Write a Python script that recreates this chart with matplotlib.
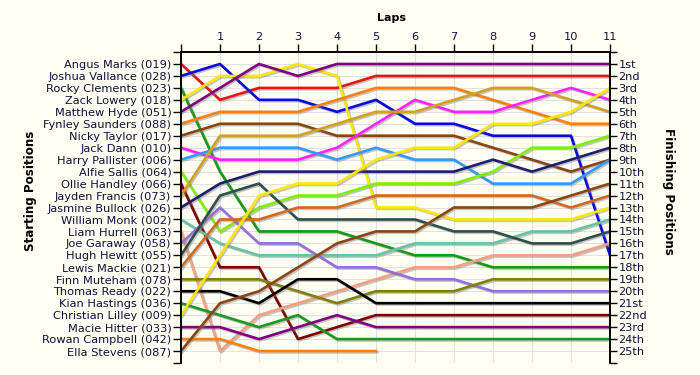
import matplotlib
matplotlib.use("Agg")
import matplotlib.pyplot as plt
import matplotlib.patheffects as pe

# starting grid (top to bottom)
names = ["Angus Marks (019)", "Joshua Vallance (028)", "Rocky Clements (023)",
         "Zack Lowery (018)", "Matthew Hyde (051)", "Fynley Saunders (088)",
         "Nicky Taylor (017)", "Jack Dann (010)", "Harry Pallister (006)",
         "Alfie Sallis (064)", "Ollie Handley (066)", "Jayden Francis (073)",
         "Jasmine Bullock (026)", "William Monk (002)", "Liam Hurrell (063)",
         "Joe Garaway (058)", "Hugh Hewitt (055)", "Lewis Mackie (021)",
         "Finn Muteham (078)", "Thomas Ready (022)", "Kian Hastings (036)",
         "Christian Lilley (009)", "Macie Hitter (033)", "Rowan Campbell (042)",
         "Ella Stevens (087)"]

# position at the end of each lap, lap 0 = grid
positions = [
    [1, 4, 3, 3, 3, 2, 2, 2, 2, 2, 2, 2],
    [2, 1, 4, 4, 5, 4, 6, 6, 7, 7, 7, 17],
    [3, 10, 15, 15, 15, 16, 17, 17, 18, 18, 18, 18],
    [4, 2, 2, 1, 2, 13, 13, 14, 14, 14, 14, 13],
    [5, 3, 1, 2, 1, 1, 1, 1, 1, 1, 1, 1],
    [6, 5, 5, 5, 4, 3, 3, 3, 4, 5, 6, 6],
    [7, 6, 6, 6, 7, 7, 7, 7, 8, 9, 10, 9],
    [8, 9, 9, 9, 8, 6, 4, 5, 5, 4, 3, 4],
    [9, 8, 8, 8, 9, 8, 9, 9, 11, 11, 11, 9],
    [10, 15, 13, 12, 12, 11, 11, 11, 10, 8, 8, 7],
    [11, 18, 18, 24, 23, 22, 22, 22, 22, 22, 22, 22],
    [12, 7, 7, 7, 6, 5, 5, 4, 3, 3, 4, 5],
    [13, 11, 10, 10, 10, 10, 10, 10, 9, 10, 9, 8],
    [14, 16, 17, 17, 17, 17, 16, 16, 16, 15, 15, 14],
    [15, 25, 22, 21, 20, 19, 18, 18, 17, 17, 17, 16],
    [16, 13, 16, 16, 18, 18, 19, 19, 20, 20, 20, 20],
    [17, 12, 11, 14, 14, 14, 14, 15, 15, 16, 16, 15],
    [18, 14, 14, 13, 13, 12, 12, 12, 12, 12, 13, 12],
    [19, 19, 19, 20, 21, 20, 20, 20, 19, 19, 19, 19],
    [20, 20, 21, 19, 19, 21, 21, 21, 21, 21, 21, 21],
    [21, 22, 23, 22, 24, 24, 24, 24, 24, 24, 24, 24],
    [22, 17, 12, 11, 11, 9, 8, 8, 6, 6, 5, 3],
    [23, 23, 24, 23, 22, 23, 23, 23, 23, 23, 23, 23],
    [24, 24, 25, 25, 25, 25],
    [25, 21, 20, 18, 16, 15, 15, 13, 13, 13, 12, 11],
]

colors = ["#E81515", "#0A0ADC", "#169A16", "#FFE800", "#800080", "#FF8010",
          "#8B4513", "#FF22FF", "#3399FF", "#80EE00", "#800000", "#D4A020",
          "#1F1F6E", "#66C4A4", "#F5A080", "#9370DB", "#2F4F4F", "#D2691E",
          "#808000", "#000000", "#1A9A1A", "#FFE800", "#800080", "#FF8010",
          "#8B4513"]

n_laps = 11
finish_labels = ["1st", "2nd", "3rd"] + [f"{i}th" for i in range(4, 21)] + \
                ["21st", "22nd", "23rd", "24th", "25th"]

bg = "#FFFFF4"
txt = "#10103A"

fig = plt.figure(figsize=(7, 3.75), dpi=100, facecolor=bg)
ax = fig.add_axes([181/700, 1 - 363/375, (610 - 181)/700, (363 - 52)/375])
ax.set_facecolor(bg)

for pos, c in zip(positions, colors):
    ax.plot(range(len(pos)), pos, color=c, lw=1.9, solid_joinstyle="round",
            path_effects=[pe.SimpleLineShadow(offset=(1, -1), shadow_color="gray", alpha=0.45),
                          pe.Normal()])

ax.set_xlim(0, n_laps)
ax.set_ylim(26, 0)

ax.set_xticks(range(0, n_laps + 1))
ax.set_xticklabels([""] + [str(i) for i in range(1, n_laps + 1)])
ax.xaxis.tick_top()
ax.set_yticks(range(0, 27))
ax.set_yticklabels([""] + names + [""])
ax.tick_params(axis="both", labelsize=8.2, colors="black", labelcolor=txt,
               length=6, width=1, direction="out", pad=1)

ax2 = ax.twinx()
ax2.set_ylim(26, 0)
ax2.set_yticks(range(0, 27))
ax2.set_yticklabels([""] + finish_labels + [""])
ax2.tick_params(axis="y", labelsize=8.2, labelcolor=txt, length=5, width=1, pad=1)

ax.grid(True, color="#E2E2E2", lw=0.8)
ax.set_axisbelow(True)
for a in (ax, ax2):
    a.spines["bottom"].set_visible(False)
    for s in ("left", "right", "top"):
        a.spines[s].set_linewidth(1.2)

fig.text(0.559, 0.952, "Laps", ha="center", va="center", fontsize=8, fontweight="bold")
fig.text(0.043, 0.49, "Starting Positions", ha="center", va="center", rotation=90,
         fontsize=8.6, fontweight="bold")
fig.text(0.955, 0.49, "Finishing Positions", ha="center", va="center", rotation=-90,
         fontsize=8.6, fontweight="bold")

fig.savefig("out.png", dpi=100, facecolor=bg)
